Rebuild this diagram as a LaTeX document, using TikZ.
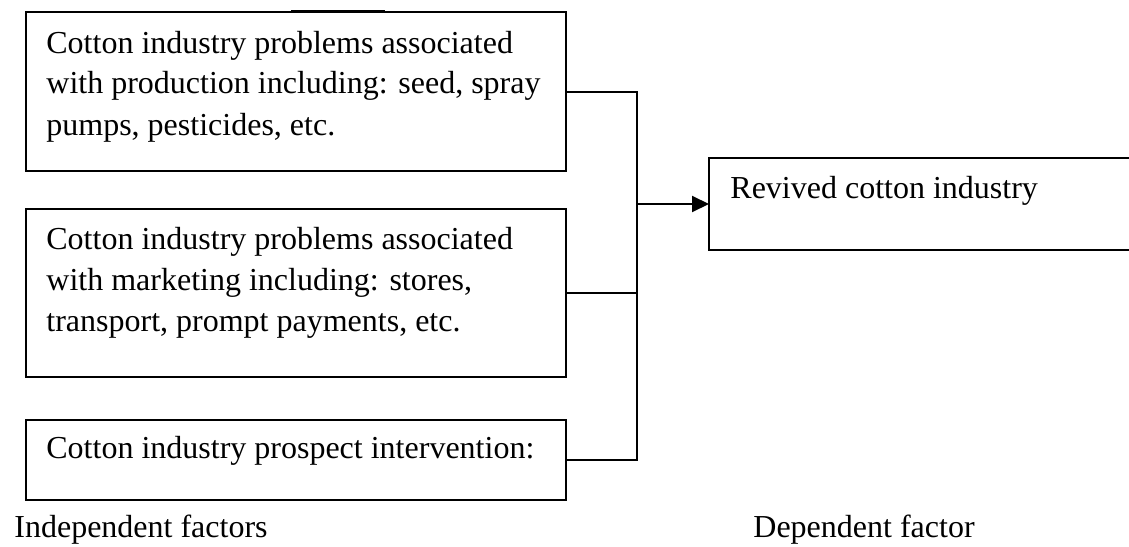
\documentclass[tikz,border=0pt]{standalone}
\usepackage{fontspec}
\setmainfont{Liberation Serif}
\usetikzlibrary{arrows.meta}
\begin{document}
\begin{tikzpicture}[x=0.5pt,y=-0.5pt,
  framebox/.style={draw=black,line width=1pt,inner sep=0pt,outer sep=0pt,anchor=north west},
  txt/.style={inner sep=0pt,anchor=base west,font=\fontsize{16pt}{20.5pt}\selectfont},
  link/.style={draw=black,line width=1pt},
  arr/.style={link,-{Triangle[length=8.5pt,width=8pt]}}]
\clip (0,0) rectangle (1129,546);
% boxes
\node[framebox,minimum width=270pt,minimum height=79.5pt] (b1) at (26,12) {};
\node[framebox,minimum width=270pt,minimum height=84pt] (b2) at (26,209) {};
\node[framebox,minimum width=270pt,minimum height=40pt] (b3) at (26,420) {};
\node[framebox,minimum width=216pt,minimum height=46pt] (rb) at (709,158) {};
% slightly heavier segment on top of first box
\draw[line width=1.6pt] (291,11.6) -- (385,11.6);
% texts
\node[txt] (t1) at (46,53) {\parbox[t]{262pt}{\raggedright Cotton industry problems associated\\ with production including: seed, spray\\ pumps, pesticides, etc.}};
\node[txt] (t2) at (46,249) {\parbox[t]{262pt}{\raggedright Cotton industry problems associated\\ with marketing including: stores,\\ transport, prompt payments, etc.}};
\node[txt] (t3) at (46,458) {Cotton industry prospect intervention:};
\node[txt] (t4) at (730,198) {Revived cotton industry};
\node[txt] (l1) at (14,537) {Independent factors};
\node[txt] (l2) at (753,537) {Dependent factor};
% connectors
\coordinate (jn) at (637,0);
\draw[link] (b1.east) -- (b1.east -| jn) -- (b3.east -| jn) -- (b3.east);
\draw[link] (b2.east) -- (b2.east -| jn);
\draw[arr] (rb.west -| jn) -- (rb.west);
\end{tikzpicture}
\end{document}
